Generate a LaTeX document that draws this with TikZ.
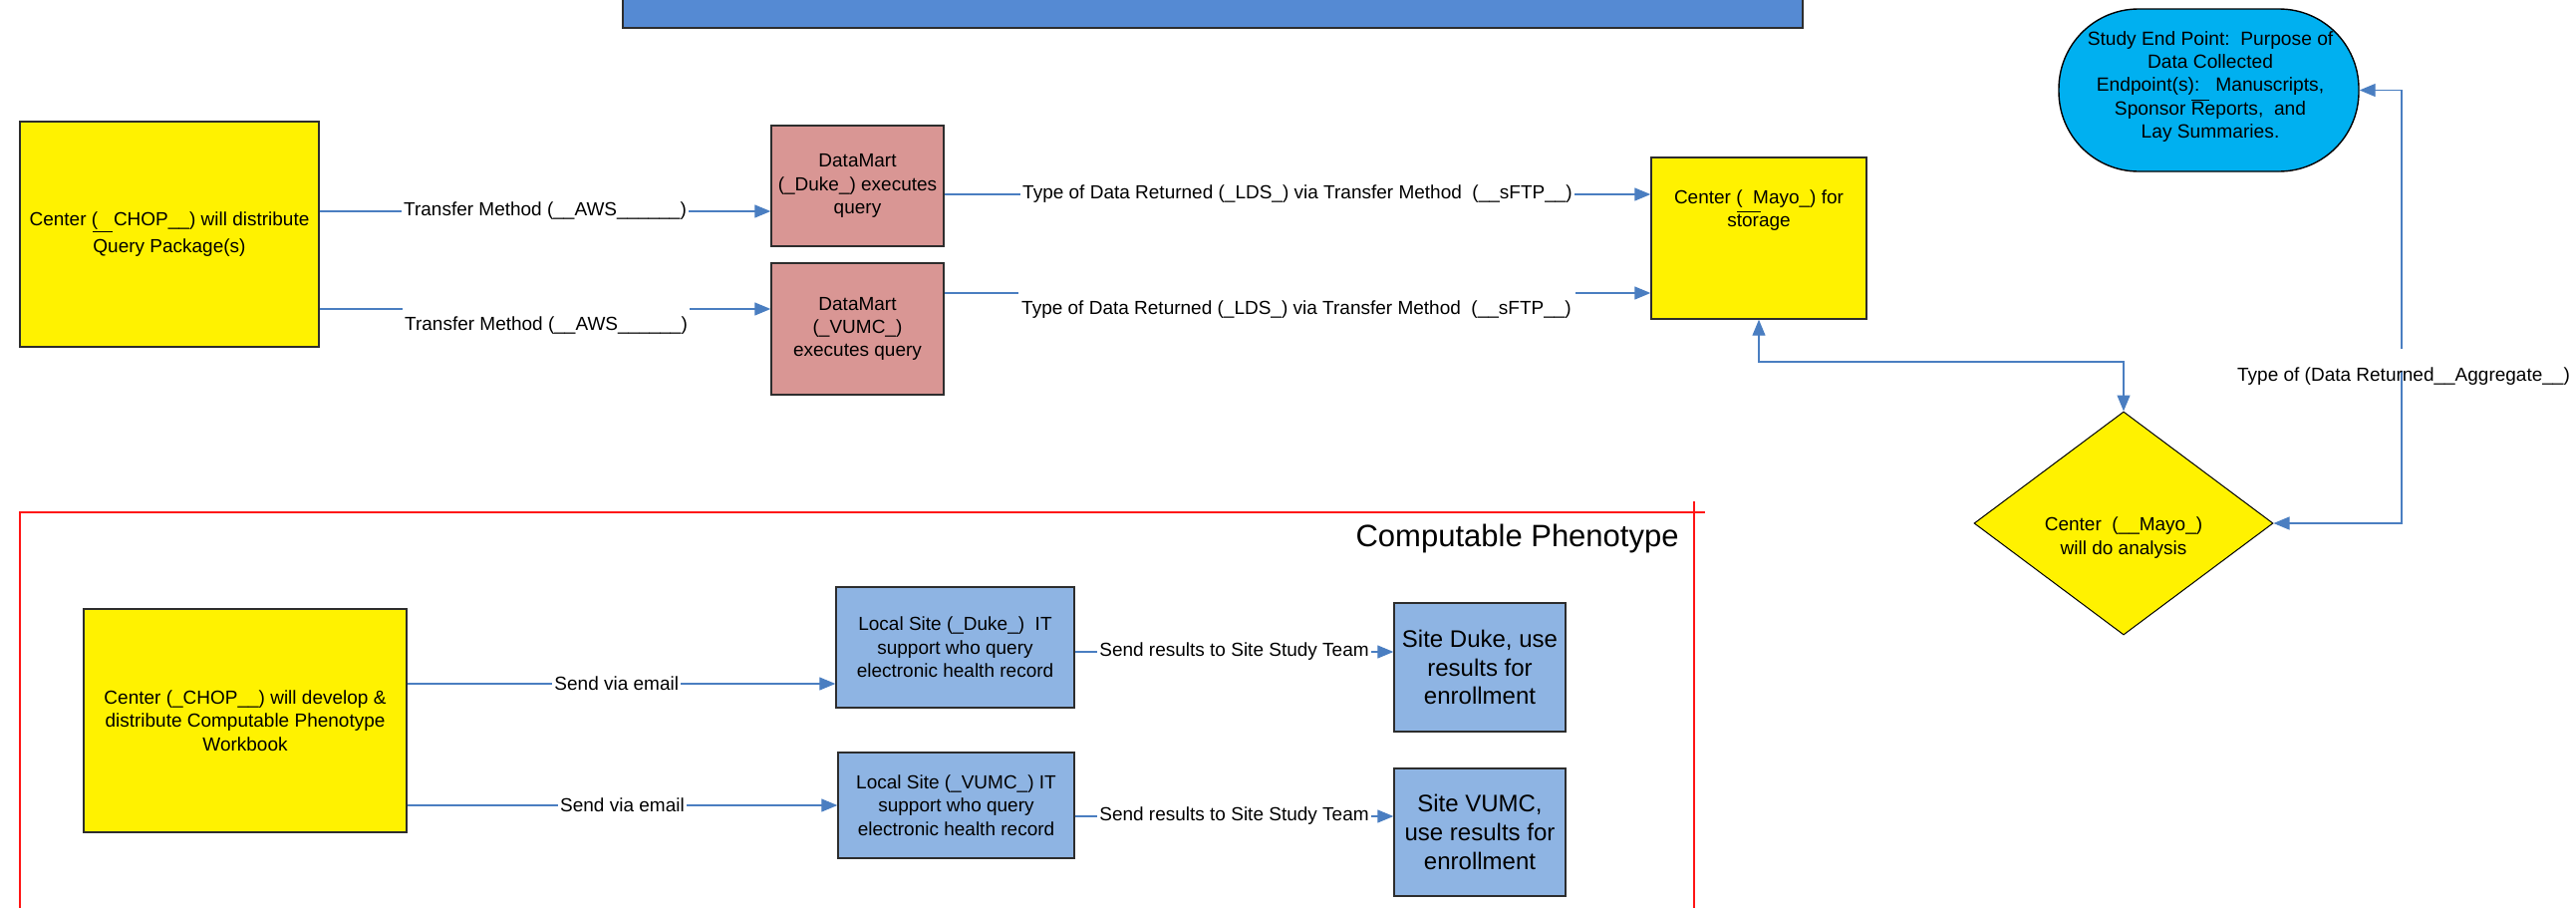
\documentclass[tikz,border=0pt]{standalone}
\usepackage{fontspec}
\setmainfont{Liberation Sans}
\usetikzlibrary{shapes.geometric,arrows.meta}
\definecolor{barblue}{RGB}{85,138,211}
\definecolor{salmon}{RGB}{217,150,148}
\definecolor{lblue}{RGB}{142,180,227}
\definecolor{ovalblue}{RGB}{0,176,240}
\definecolor{connblue}{RGB}{74,126,193}
\definecolor{framered}{RGB}{255,20,20}
\definecolor{edgegray}{RGB}{45,45,45}
\newcommand\myobar[2]{\makebox[0pt][l]{\raisebox{#1}{\rule{#2}{0.5pt}}}}
\begin{document}
\begin{tikzpicture}[x=0.5pt,y=-0.5pt,
  box/.style={draw=edgegray,line width=0.7pt,inner sep=0pt,align=center,font=\fontsize{9.5}{11.7}\selectfont},
  txt/.style={inner sep=0pt,align=center,font=\fontsize{9.5}{11.7}\selectfont},
  conn/.style={draw=connblue,line width=0.6pt},
  arr/.style={conn,-{Triangle[length=8pt,width=6.5pt]}},
  larr/.style={conn,{Triangle[length=8pt,width=6.5pt]}-},
  darr/.style={conn,{Triangle[length=8pt,width=6.5pt]}-{Triangle[length=8pt,width=6.5pt]}},
  elabel/.style={fill=white,inner sep=1pt,font=\fontsize{9.5}{11}\selectfont},
  flabel/.style={inner sep=0pt,font=\fontsize{9.5}{11}\selectfont}
]
\useasboundingbox (0,0) rectangle (2585,910);

% top bar
\node[draw=edgegray,line width=0.75pt,fill=barblue,minimum width=592pt,minimum height=17pt,inner sep=0pt] (bar) at (1217,11) {};

% top flow
\node[box,fill=yellow,minimum width=150pt,minimum height=113pt] (chop) at (170,235)
  {Center (\ \ \ CHOP\_\_) will distribute\\\myobar{10pt}{10pt}Query Package(s)};
\node[box,fill=salmon,minimum width=86.5pt,minimum height=60.5pt] (dmduke) at (860.5,186.5)
  {DataMart\\(\_Duke\_) executes\\query};
\node[box,fill=salmon,minimum width=86.5pt,minimum height=66pt] (dmvumc) at (860.5,330)
  {DataMart\\(\_VUMC\_)\\executes query};
\node[box,fill=yellow,minimum width=108pt,minimum height=81pt] (mayo) at (1765,239) {};
\node[txt] (mayotxt) at (1765,211) {Center (\ \ Mayo\_) for\\s\myobar{7.5pt}{12pt}torage};

\node[draw=black,line width=0.7pt,fill=ovalblue,rounded corners=40pt,minimum width=150.5pt,minimum height=81.5pt,inner sep=0pt] (oval) at (2216.5,90.5) {};
\node[txt,font=\fontsize{9.6}{11.6}\selectfont] (ovaltxt) at (2218,87)
  {Study End Point:\ \ Purpose of\\Data Collected\\Endpoint(s):\ \ \ Manuscripts,\\Sponsor \myobar{7pt}{9pt}Reports,\ \ and\\Lay Summaries.};

\node[draw=black,line width=0.5pt,fill=yellow,diamond,minimum width=150pt,minimum height=112pt,inner sep=0pt] (diam) at (2131,525) {};
\node[txt,font=\fontsize{9.5}{12}\selectfont] (diamtxt) at (2131,540) {Center\ \ (\_\_Mayo\_)\\will do analysis};

% row coordinates
\coordinate (r1) at (0,212);
\coordinate (r2) at (0,310);
\coordinate (r3) at (0,195);
\coordinate (r4) at (0,294);
\coordinate (h1) at (0,363);
\coordinate (g2a) at (404,310);
\coordinate (g2b) at (692,310);
\coordinate (g4a) at (1022,294);
\coordinate (g4b) at (1581,294);
\coordinate (vx) at (2410,0);
\coordinate (c1) at (2410,372);
\coordinate (c2) at (2410,350);

\draw[arr] (chop.east |- r1) -- node[elabel] (lab1) {Transfer Method (\_\_AWS\_\_\_\_\_\_)} (dmduke.west |- r1);
\draw[conn] (chop.east |- r2) -- (g2a);
\draw[arr] (g2b) -- (dmvumc.west |- r2);
\node[flabel] (lab2) at (548,327) {Transfer Method (\_\_AWS\_\_\_\_\_\_)};

\draw[arr] (dmduke.east |- r3) -- node[elabel] (lab3) {Type of Data Returned (\_LDS\_) via Transfer Method\ \ (\_\_sFTP\_\_)} (mayo.west |- r3);
\draw[conn] (dmvumc.east |- r4) -- (g4a);
\draw[arr] (g4b) -- (mayo.west |- r4);
\node[flabel] (lab4) at (1301,311) {Type of Data Returned (\_LDS\_) via Transfer Method\ \ (\_\_sFTP\_\_)};

\draw[darr] (mayo.south) -- (mayo.south |- h1) -- (diam.north |- h1) -- (diam.north);

\draw[larr] (diam.east) -- (diam.east -| vx) -- (c1);
\draw[arr] (c2) -- (c2 |- oval.east) -- (oval.east);
\node[flabel] (agglab) at (2412,378) {Type of (Data Returned\_\_Aggregate\_\_)};

% computable phenotype frame
\draw[framered,line width=1pt] (20,915) -- (20,514) -- (1711,514);
\draw[framered,line width=1pt] (1700,503) -- (1700,915);
\node[anchor=east,inner sep=0pt,font=\fontsize{15.5}{18}\selectfont] (cptitle) at (1685,540) {Computable Phenotype};

\node[box,fill=yellow,minimum width=162pt,minimum height=112pt] (chop2) at (246,723)
  {Center (\_CHOP\_\_) will develop \&\\distribute Computable Phenotype\\Workbook};
\node[box,fill=lblue,minimum width=119.5pt,minimum height=60.5pt] (localduke) at (958.5,649.5)
  {Local Site (\_Duke\_)\ \ IT\\support who query\\electronic health record};
\node[box,fill=lblue,minimum width=118.5pt,minimum height=53pt] (localvumc) at (959.5,808)
  {Local Site (\_VUMC\_) IT\\support who query\\electronic health record};
\node[box,fill=lblue,minimum width=86pt,minimum height=64.5pt,font=\fontsize{12}{14.3}\selectfont] (siteduke) at (1485,669.5)
  {Site Duke, use\\results for\\enrollment};
\node[box,fill=lblue,minimum width=86pt,minimum height=64pt,font=\fontsize{12}{14.5}\selectfont] (sitevumc) at (1485,835)
  {Site VUMC,\\use results for\\enrollment};

\coordinate (r7) at (0,686);
\coordinate (r8) at (0,808);
\coordinate (r9) at (0,654);
\coordinate (r10) at (0,819);

\draw[arr] (chop2.east |- r7) -- node[elabel,pos=0.489] (lab7) {Send via email} (localduke.west |- r7);
\draw[arr] (chop2.east |- r8) -- node[elabel,pos=0.50] (lab8) {Send via email} (localvumc.west |- r8);
\draw[arr] (localduke.east |- r9) -- node[elabel,pos=0.50] (lab9) {Send results to Site Study Team} (siteduke.west |- r9);
\draw[arr] (localvumc.east |- r10) -- node[elabel,pos=0.50] (lab10) {Send results to Site Study Team} (sitevumc.west |- r10);
\end{tikzpicture}
\end{document}
